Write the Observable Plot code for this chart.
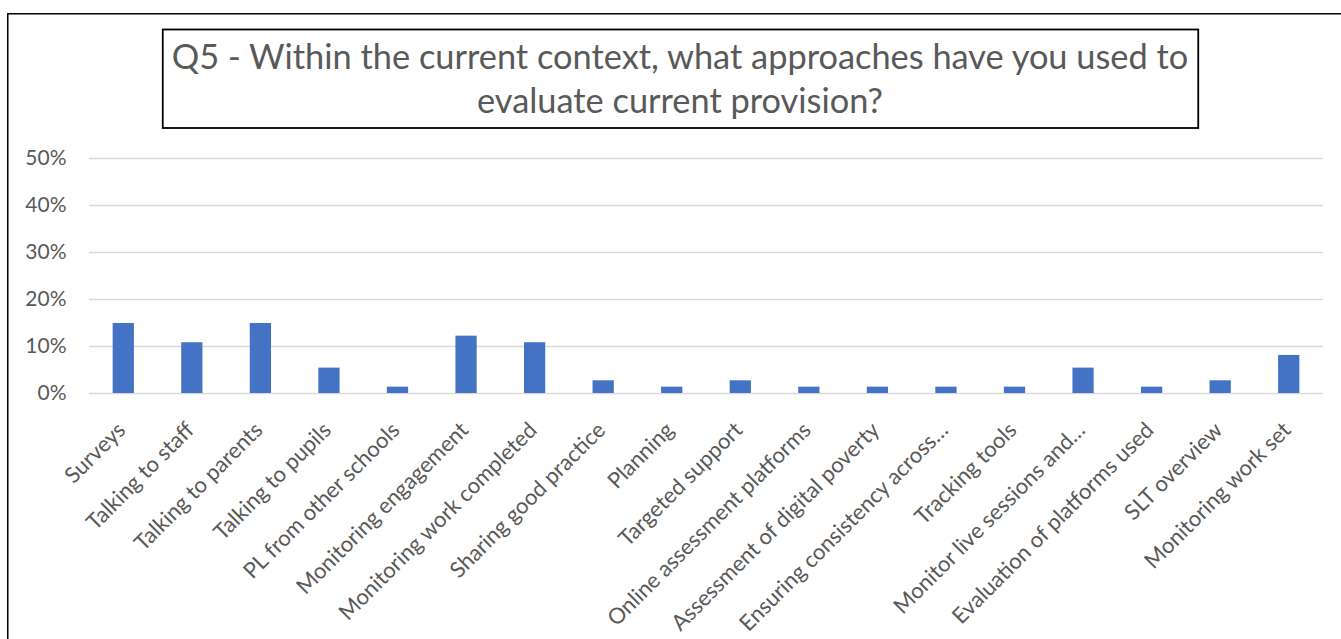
<!DOCTYPE html>
<html><head><meta charset="utf-8">
<script src="https://cdn.jsdelivr.net/npm/d3@7"></script>
<script src="https://cdn.jsdelivr.net/npm/@observablehq/plot@0.6"></script>
<style>
body{margin:0;background:#fff;width:1341px;height:639px;overflow:hidden;position:relative;font-family:Lato,"Liberation Sans",sans-serif;}
#chart{position:absolute;left:0;top:0;}
#overlay{position:absolute;left:0;top:0;pointer-events:none;}
</style>
</head><body>
<div id="chart"></div>
<svg id="overlay" width="1341" height="639">
  <rect x="7.75" y="13.75" width="1400" height="700" fill="none" stroke="#000" stroke-width="1.5"/>
  <rect x="162.75" y="29.5" width="1035.5" height="98.5" fill="none" stroke="#000" stroke-width="1.8"/>
  <text id="t1" x="680" y="69" text-anchor="middle" fill="#595959" font-family="Lato" font-size="32"></text>
  <text id="t2" x="680" y="113" text-anchor="middle" fill="#595959" font-family="Lato" font-size="32"></text>
</svg>
<script>
const titleLines = ["Q5 - Within the current context, what approaches have you used to", "evaluate current provision?"];
const categories = ["Surveys","Talking to staff","Talking to parents","Talking to pupils","PL from other schools","Monitoring engagement","Monitoring work completed","Sharing good practice","Planning","Targeted support","Online assessment platforms","Assessment of digital poverty","Ensuring consistency across…","Tracking tools","Monitor live sessions and…","Evaluation of platforms used","SLT overview","Monitoring work set"];
const values = [14.9, 10.8, 14.9, 5.4, 1.35, 12.2, 10.8, 2.7, 1.35, 2.7, 1.35, 1.35, 1.35, 1.35, 5.4, 1.35, 2.7, 8.1];
const yTicks = [0, 10, 20, 30, 40, 50];

// title text, fitted to the reference width
const t1 = document.getElementById("t1"), t2 = document.getElementById("t2");
t1.textContent = titleLines[0]; t2.textContent = titleLines[1];
const w = t1.getComputedTextLength();
const fs = 32 * 1017 / w;
t1.setAttribute("font-size", fs); t2.setAttribute("font-size", fs);

const data = categories.map((c, i) => ({c, v: values[i]}));
const chart = Plot.plot({
  width: 1341, height: 639,
  marginLeft: 89, marginRight: 18, marginTop: 158, marginBottom: 246,
  style: {background: "transparent", fontFamily: "Lato, 'Liberation Sans', sans-serif", color: "#595959"},
  x: {domain: categories, paddingInner: 0.69, paddingOuter: 0.345, round: false, label: null},
  y: {domain: [0, 50], label: null},
  marks: [
    Plot.gridY(yTicks, {stroke: "#d9d9d9", strokeOpacity: 1, strokeWidth: 1.5}),
    Plot.axisY(yTicks, {tickSize: 0, tickPadding: 23, tickFormat: d => d + "%", fontSize: 21, fill: "#595959", label: null}),
    Plot.barY(data, {x: "c", y: "v", fill: "#4472C4"}),
    Plot.axisX({tickSize: 0, tickRotate: -45, tickPadding: 33, dx: -2, fontSize: 22, fill: "#595959", label: null, textOverflow: null, lineWidth: Infinity})
  ]
});
document.getElementById("chart").appendChild(chart);
</script>
</body></html>
